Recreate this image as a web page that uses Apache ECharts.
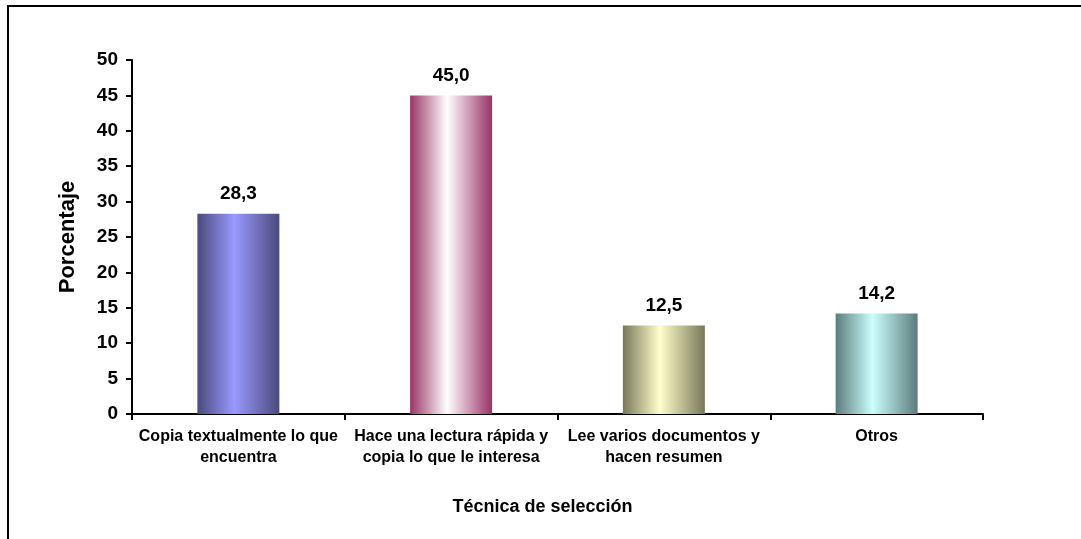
<!DOCTYPE html>
<html>
<head>
<meta charset="utf-8">
<script src="https://cdn.jsdelivr.net/npm/echarts@6/dist/echarts.min.js"></script>
<style>
  html, body { margin: 0; padding: 0; background: #fff; }
  #chart { width: 1081px; height: 539px; }
</style>
</head>
<body>
<div id="chart"></div>
<script>
// Técnica de selección de información (porcentaje)
const categories = [
  'Copia textualmente lo que\nencuentra',
  'Hace una lectura rápida y\ncopia lo que le interesa',
  'Lee varios documentos y\nhacen resumen',
  'Otros'
];
const values = [28.3, 45.0, 12.5, 14.2];
const yTicks = { min: 0, max: 50, interval: 5 };

// edge / centre colours for each cylinder-style bar
const barEdge = ['#4a4a7c', '#993366', '#78785a', '#5c7c7c'];
const barCentre = ['#9999ff', '#ffffff', '#ffffcc', '#ccffff'];

const FONT = '"Liberation Sans", Arial, sans-serif';

function shade(i) {
  return new echarts.graphic.LinearGradient(0, 0, 1, 0, [
    { offset: 0, color: barEdge[i] },
    { offset: 0.45, color: barCentre[i] },
    { offset: 1, color: barEdge[i] }
  ]);
}

const chart = echarts.init(document.getElementById('chart'), null, { renderer: 'canvas' });

chart.setOption({
  animation: false,
  backgroundColor: '#ffffff',
  grid: { left: 132, right: 98, top: 60, bottom: 125, containLabel: false },
  graphic: [{
    type: 'rect',
    shape: { x: 8, y: 6, width: 1200, height: 700 },
    style: { fill: 'none', stroke: '#000', lineWidth: 2 },
    silent: true,
    z: 100
  }],
  xAxis: {
    type: 'category',
    data: categories,
    name: 'Técnica de selección',
    nameLocation: 'middle',
    nameGap: 84,
    nameTextStyle: {
      fontFamily: FONT, fontWeight: 'bold', fontSize: 18, color: '#000',
      padding: [0, 30, 0, 0]
    },
    axisLine: { lineStyle: { color: '#000', width: 2 } },
    axisTick: { show: true, alignWithLabel: false, length: 6, lineStyle: { color: '#000', width: 2 } },
    axisLabel: {
      fontFamily: FONT, fontWeight: 'bold', fontSize: 16, color: '#000',
      lineHeight: 21, margin: 12, interval: 0
    },
    splitLine: { show: false }
  },
  yAxis: {
    type: 'value',
    min: yTicks.min,
    max: yTicks.max,
    interval: yTicks.interval,
    name: 'Porcentaje',
    nameLocation: 'middle',
    nameGap: 53,
    nameRotate: 90,
    nameTextStyle: { fontFamily: FONT, fontWeight: 'bold', fontSize: 22, color: '#000' },
    axisLine: { show: true, lineStyle: { color: '#000', width: 2 } },
    axisTick: { show: true, length: 6, lineStyle: { color: '#000', width: 2 } },
    axisLabel: { fontFamily: FONT, fontWeight: 'bold', fontSize: 19, color: '#000', margin: 14 },
    splitLine: { show: false }
  },
  series: [{
    type: 'bar',
    barWidth: 82,
    data: values.map((v, i) => ({ value: v, itemStyle: { color: shade(i) } })),
    label: {
      show: true,
      position: 'top',
      distance: 10,
      fontFamily: FONT,
      fontWeight: 'bold',
      fontSize: 19,
      color: '#000',
      formatter: p => p.value.toFixed(1).replace('.', ',')
    }
  }]
});
</script>
</body>
</html>
